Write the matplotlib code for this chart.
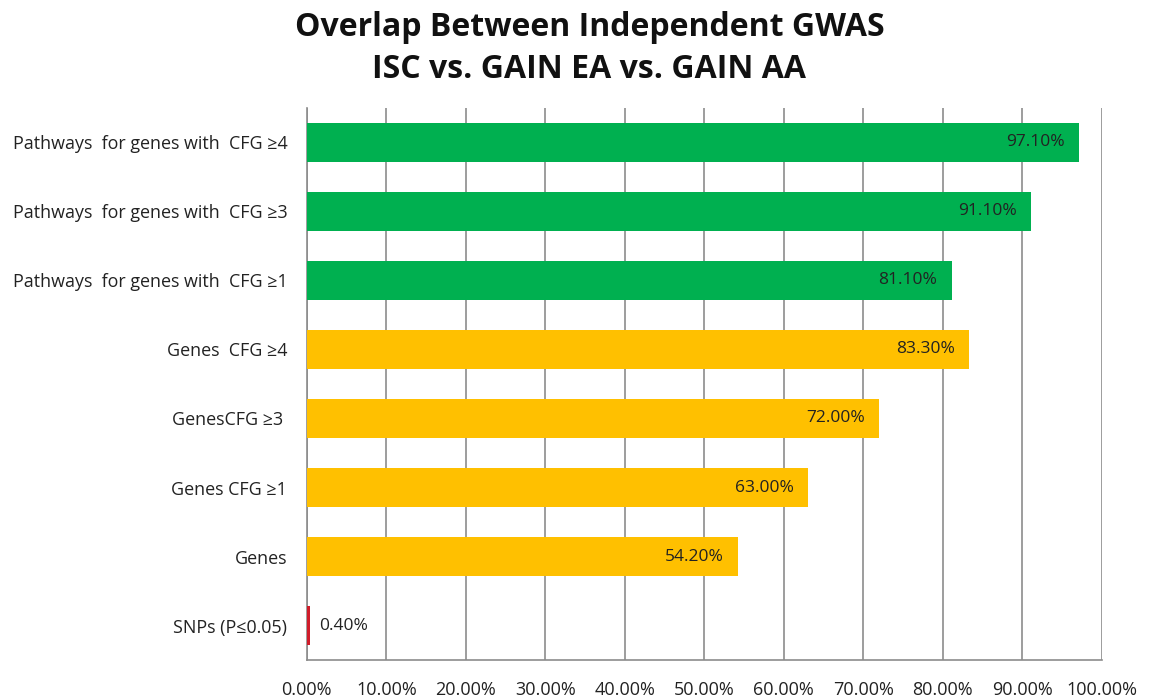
import matplotlib.pyplot as plt
from matplotlib.ticker import FuncFormatter

categories = [
    "SNPs (P\u22640.05)",
    "Genes",
    "Genes CFG \u22651",
    "GenesCFG \u22653 ",
    "Genes  CFG \u22654",
    "Pathways  for genes with  CFG \u22651",
    "Pathways  for genes with  CFG \u22653",
    "Pathways  for genes with  CFG \u22654",
]
values = [0.40, 54.20, 63.00, 72.00, 83.30, 81.10, 91.10, 97.10]
colors = ["#D01C2A"] + ["#FFC000"] * 4 + ["#00B050"] * 3

plt.rcParams['font.family'] = ['Open Sans', 'DejaVu Sans']

fig = plt.figure(figsize=(11.49, 7), dpi=100)
ax = fig.add_axes([0.267, 0.057, 0.692, 0.789])

ypos = list(range(len(categories)))
ax.barh(ypos, values, height=0.56, color=colors, zorder=3)

for y, v in zip(ypos, values):
    label = f"{v:.2f}%"
    if v < 5:
        ax.text(v + 1.2, y, label, ha='left', va='center', fontsize=12.5, color='#222222', zorder=4)
    else:
        ax.text(v - 1.8, y, label, ha='right', va='center', fontsize=12.5, color='#222222', zorder=4)

ax.set_xlim(0, 100)
ax.set_ylim(-0.5, 7.5)
ax.set_xticks(range(0, 101, 10))
ax.xaxis.set_major_formatter(FuncFormatter(lambda x, _: f"{x:.2f}%"))
ax.set_yticks(ypos)
ax.set_yticklabels(categories)
ax.tick_params(axis='x', length=0, pad=15, labelsize=13, colors='#222222')
ax.tick_params(axis='y', length=0, pad=14, labelsize=12.9, colors='#222222')

ax.grid(axis='x', color='#8c8c8c', linewidth=1.2, zorder=0)
for side in ['top', 'right']:
    ax.spines[side].set_visible(False)
for side in ['left', 'bottom']:
    ax.spines[side].set_color('#8c8c8c')
    ax.spines[side].set_linewidth(1.2)

fig.text(0.513, 0.96, "Overlap Between Independent GWAS", ha='center', va='center',
         fontsize=23, fontweight='bold', color='#111111')
fig.text(0.513, 0.90, "ISC vs. GAIN EA vs. GAIN AA", ha='center', va='center',
         fontsize=23, fontweight='bold', color='#111111')

fig.savefig('out.png', dpi=100)
